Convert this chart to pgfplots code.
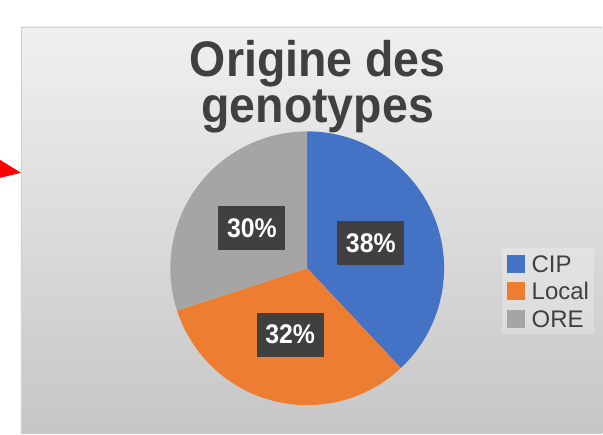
\documentclass[border=0pt]{standalone}
\usepackage{pgfplots}
\pgfplotsset{compat=1.18}
\usepackage{pgfplotstable}
\usepackage{fontspec}
\setmainfont{Liberation Sans}
\newfontface\titlefont[FakeStretch=0.93]{Liberation Sans Bold}
\newfontface\labelfont[FakeStretch=0.92]{Liberation Sans Bold}
\newcommand\titlesetup{\titlefont\fontsize{50}{46}\selectfont\lineskiplimit=-100pt\relax\lineskip=0pt\relax}
\usetikzlibrary{calc}
\definecolor{cip}{HTML}{4472C4}
\definecolor{loc}{HTML}{ED7D31}
\definecolor{ore}{HTML}{A5A5A5}
\definecolor{lbl}{HTML}{404040}
\definecolor{txt}{HTML}{404040}
\definecolor{bgtop}{HTML}{F0F0F0}
\definecolor{bgbot}{HTML}{C6C6C6}

\pgfplotstableread{
name value
CIP 38
Local 32
ORE 30
}\piedata

\begin{document}
\begin{tikzpicture}
\pgfplotstablegetelem{0}{value}\of\piedata \edef\vA{\pgfplotsretval}
\pgfplotstablegetelem{1}{value}\of\piedata \edef\vB{\pgfplotsretval}
\pgfplotstablegetelem{2}{value}\of\piedata \edef\vC{\pgfplotsretval}
\pgfmathsetmacro\tot{\vA+\vB+\vC}
\pgfmathsetmacro\aS{90}
\pgfmathsetmacro\aA{90-360*\vA/\tot}
\pgfmathsetmacro\aB{\aA-360*\vB/\tot}
\pgfmathsetmacro\aC{\aB-360*\vC/\tot}
\pgfmathsetmacro\mA{(\aS+\aA)/2}
\pgfmathsetmacro\mB{(\aA+\aB)/2}
\pgfmathsetmacro\mC{(\aB+\aC)/2}
\pgfmathtruncatemacro\pA{round(100*\vA/\tot)}
\pgfmathtruncatemacro\pB{round(100*\vB/\tot)}
\pgfmathtruncatemacro\pC{round(100*\vC/\tot)}
\begin{axis}[
  width=603pt, height=434pt, scale only axis,
  xmin=0, xmax=603, ymin=0, ymax=434, y dir=reverse,
  hide axis, clip=false,
  legend image code/.code={\fill[#1, fill opacity=1] (0pt,-9pt) rectangle (18pt,9pt);},
  legend cell align=left,
  legend style={at={(axis cs:502,248)}, anchor=north west, draw=none,
    fill=white, fill opacity=0.25, text opacity=1,
    inner xsep=5pt, inner ysep=2pt,
    font=\fontsize{24}{24}\selectfont, text=txt, row sep=0pt,
    nodes={inner xsep=0pt, inner ysep=0pt, text height=17.5pt, text depth=0pt, minimum height=27.5pt},
    /tikz/every odd column/.style={column sep=7pt},
    /tikz/every even column/.style={column sep=6pt}},
]
\fill[white] (axis cs:0,0) rectangle (axis cs:603,434);
\shade[top color=bgtop, bottom color=bgbot] (axis cs:21,27) rectangle (axis cs:603,434);
\draw[black!18, line width=1.2pt] (axis cs:21.6,434) -- (axis cs:21.6,27.6) -- (axis cs:603,27.6);
\fill[red] (axis cs:0,160) -- (axis cs:21,173) -- (axis cs:0,178) -- cycle;

\fill[cip] (axis cs:307.5,268.5) -- ++(\aS:137pt) arc[start angle=\aS, end angle=\aA, radius=137pt] -- cycle;
\fill[loc] (axis cs:307.5,268.5) -- ++(\aA:137pt) arc[start angle=\aA, end angle=\aB, radius=137pt] -- cycle;
\fill[ore] (axis cs:307.5,268.5) -- ++(\aB:137pt) arc[start angle=\aB, end angle=\aC, radius=137pt] -- cycle;

\node[anchor=base, inner sep=0pt, align=center, text=txt, font=\titlesetup]
  at (axis cs:318,123) {Origine des\\genotypes};

\tikzset{pl/.style={fill=lbl, text=white, font=\labelfont\fontsize{27}{27}\selectfont, minimum width=67pt, minimum height=44pt, inner sep=0pt}}
\node[pl] at ($(axis cs:307.5,268.5)+(\mA:68.5pt)$) {\pA\%};
\node[pl] at ($(axis cs:307.5,268.5)+(\mB:68.5pt)$) {\pB\%};
\node[pl] at ($(axis cs:307.5,268.5)+(\mC:68.5pt)$) {\pC\%};

\addlegendimage{fill=cip, draw=none}
\addlegendentry{CIP}
\addlegendimage{fill=loc, draw=none}
\addlegendentry{Local}
\addlegendimage{fill=ore, draw=none}
\addlegendentry{ORE}
\end{axis}
\end{tikzpicture}
\end{document}
